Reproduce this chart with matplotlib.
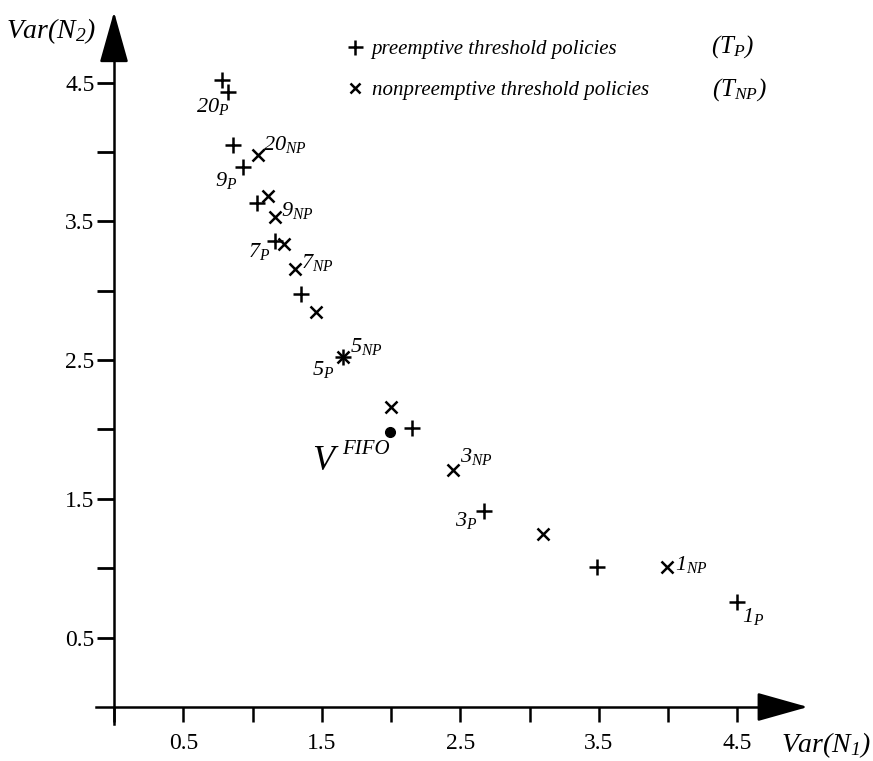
import matplotlib
matplotlib.use('Agg')
import matplotlib.pyplot as plt

plt.rcParams['font.family'] = 'Liberation Serif'
plt.rcParams['mathtext.fontset'] = 'custom'
plt.rcParams['mathtext.it'] = 'Liberation Serif:italic'
plt.rcParams['mathtext.rm'] = 'Liberation Serif:italic'

# preemptive threshold policies (T_P)
p_var1 = [4.50, 3.49, 2.67, 2.15, 1.65, 1.35, 1.16, 1.03, 0.93, 0.86, 0.82, 0.78]
p_var2 = [0.76, 1.01, 1.41, 2.01, 2.52, 2.98, 3.36, 3.63, 3.89, 4.05, 4.43, 4.52]
p_names = ['1', '2', '3', '4', '5', '6', '7', '8', '9', '10', '20', '']

# nonpreemptive threshold policies (T_NP)
np_var1 = [3.99, 3.10, 2.45, 2.00, 1.65, 1.46, 1.31, 1.23, 1.16, 1.11, 1.04]
np_var2 = [1.01, 1.25, 1.71, 2.16, 2.52, 2.85, 3.16, 3.34, 3.53, 3.68, 3.98]
np_names = ['1', '2', '3', '4', '5', '6', '7', '8', '9', '10', '20']

fifo = (1.99, 1.98)

ticks = [0.5, 1.5, 2.5, 3.5, 4.5]
minor_ticks = [0, 1, 2, 3, 4]

# label offsets in pixels (dx, dy, ha) for the labelled thresholds
p_lab = {'1': (5, -15, 'left'), '3': (-6, -9, 'right'), '5': (-8, -12, 'right'),
         '7': (-4, -11, 'right'), '9': (-5, -13, 'right'), '20': (2, -14, 'right')}
np_lab = {'1': (8, 2, 'left'), '3': (7, 13, 'left'), '5': (7, 11, 'left'),
          '7': (6, 6, 'left'), '9': (6, 7, 'left'), '20': (5, 10, 'left')}

fig = plt.figure(figsize=(8.73, 7.61), dpi=100)
ax = fig.add_axes([0.10997, 0.04908, 0.8218, 0.94264])
ax.set_xlim(-0.13, 5.05)
ax.set_ylim(-0.12, 5.05)

for s in ['top', 'right']:
    ax.spines[s].set_visible(False)
ax.spines['left'].set_position(('data', 0))
ax.spines['bottom'].set_position(('data', 0))
ax.spines['left'].set_bounds(-0.12, 4.8)
ax.spines['bottom'].set_bounds(-0.13, 4.8)
for s in ['left', 'bottom']:
    ax.spines[s].set_linewidth(1.8)

arrow = dict(arrowstyle='-|>,head_length=1.6,head_width=0.45', color='black',
             lw=1.8, mutation_scale=20, shrinkA=0, shrinkB=0)
ax.annotate('', xy=(5.01, 0), xytext=(4.7, 0), arrowprops=arrow, annotation_clip=False)
ax.annotate('', xy=(0, 5.01), xytext=(0, 4.7), arrowprops=arrow, annotation_clip=False)

ax.set_xticks(ticks)
ax.set_xticklabels([str(t) for t in ticks])
ax.set_yticks(ticks)
ax.set_yticklabels([str(t) for t in ticks])
ax.set_xticks(minor_ticks, minor=True)
ax.set_yticks(minor_ticks[1:], minor=True)
ax.tick_params(axis='x', which='both', direction='out', length=11, width=1.8,
               pad=8, labelsize=17)
ax.tick_params(axis='y', which='both', direction='out', length=12, width=2.0,
               pad=2, labelsize=17)

hp, = ax.plot(p_var1, p_var2, linestyle='none', marker='+', markersize=12,
              markeredgewidth=1.8, color='black', clip_on=False)
hn, = ax.plot(np_var1, np_var2, linestyle='none', marker='x', markersize=8,
              markeredgewidth=1.8, color='black', clip_on=False)
ax.plot([fifo[0]], [fifo[1]], 'o', color='black', markersize=7)

for x, y, n in zip(p_var1, p_var2, p_names):
    if n in p_lab:
        dx, dy, ha = p_lab[n]
        ax.annotate(r'$%s_{P}$' % n, (x, y), xytext=(dx, dy),
                    textcoords='offset pixels', ha=ha, va='center', fontsize=16)
for x, y, n in zip(np_var1, np_var2, np_names):
    if n in np_lab:
        dx, dy, ha = np_lab[n]
        ax.annotate(r'$%s_{NP}$' % n, (x, y), xytext=(dx, dy),
                    textcoords='offset pixels', ha=ha, va='center', fontsize=16)

ax.annotate('V', fifo, xytext=(-66, -29), textcoords='offset pixels',
            ha='center', va='center', fontsize=26, style='italic')
ax.annotate('FIFO', fifo, xytext=(-24, -17), textcoords='offset pixels',
            ha='center', va='center', fontsize=15, style='italic')

leg = ax.legend([hp, hn], ['preemptive threshold policies',
                           'nonpreemptive threshold policies'],
                loc='upper left', bbox_to_anchor=(334 / 873, 1 - 29 / 761),
                bbox_transform=fig.transFigure, frameon=False,
                prop={'family': 'Liberation Serif', 'style': 'italic', 'size': 15},
                handlelength=1.0, handletextpad=0.3, borderpad=0,
                labelspacing=1.05, markerscale=0.9)
fig.text(711 / 873, 1 - 47 / 761, r'$(T_P)$', fontsize=18, va='center')
fig.text(712 / 873, 1 - 90 / 761, r'$(T_{NP})$', fontsize=18, va='center')

fig.text(51 / 873, 1 - 31 / 761, r'$Var(N_2)$', fontsize=20, ha='center', va='center')
fig.text(826 / 873, 1 - 745 / 761, r'$Var(N_1)$', fontsize=20, ha='center', va='center')

fig.savefig('out.png', dpi=100)
